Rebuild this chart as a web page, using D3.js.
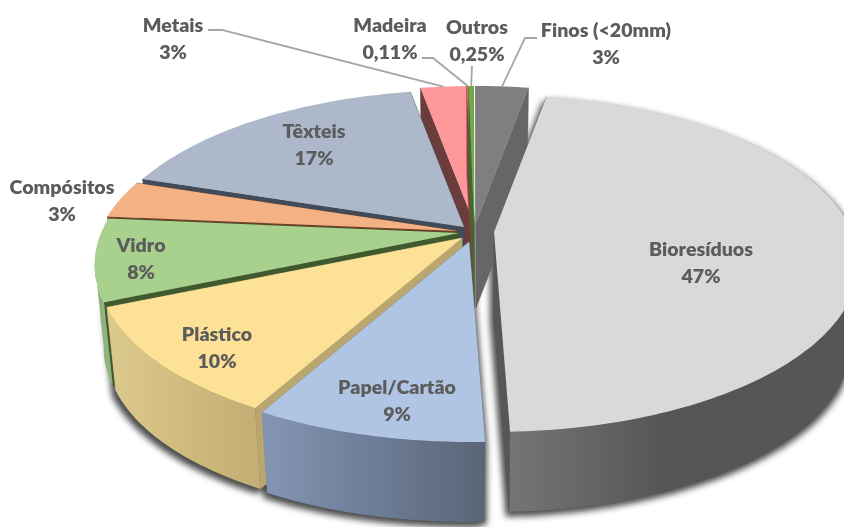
<!DOCTYPE html>
<html><head><meta charset="utf-8">
<script src="https://cdn.jsdelivr.net/npm/d3@7"></script>
<style>html,body{margin:0;padding:0;background:#fff;overflow:hidden}svg{display:block}text{font-family:Lato,"Open Sans",sans-serif;font-weight:800;font-size:19.6px;fill:#5c5c5c;text-anchor:middle}</style>
</head><body><svg id="c" width="844" height="527"></svg>
<script>
const categories=["Bioresíduos","Papel/Cartão","Plástico","Vidro","Compósitos","Têxteis","Metais","Madeira","Outros","Finos (<20mm)"];
const values=[46.6,8.6,10.5,7.9,3.6,17.1,2.45,0.11,0.25,2.8];
const percentLabels=["47%","9%","10%","8%","3%","17%","3%","0,11%","0,25%","3%"];
const topColors=["#d9d9d9","#b0c4e3","#fce196","#a9d18e","#f4b183","#adb9ca","#ff9999","#e0736e","#70ad47","#7f7f7f"];
const cutColors=["#575757","#76869f","#b9a76f","#41592f","#6b4027","#414b5a","#6b3c3c","#8a3f3f","#3f6a2f","#666666"];
const wallStart=["#757575","#8496b4","#dcc98d","#8fb47a","#b87f58","#6b7788","#8a4f4f","#8a4f4f","#4f7d38","#5a5a5a"];
const wallMid=["#555555","#6f7f9b","#d2bd80","#8fb47a","#b87f58","#6b7788","#8a4f4f","#8a4f4f","#4f7d38","#5a5a5a"];
const wallEnd=["#565656","#5a6577","#c2ad73","#8fb47a","#b87f58","#6b7788","#8a4f4f","#8a4f4f","#4f7d38","#5a5a5a"];
const shiftX=[21,-4,-11,-14,-15,-9,1,1,1,3];
const shiftY=[0,10,6,1,-1,-5,-9,-9,-9,-9];
const labelX=[701,397,217,141,62,314,173,390,477,606];
const labelY=[256,394,341,252,194,138,32,32,34,37];
const leaderElbows=[null,null,null,null,null,null,[[208,30],[222,30]],[[422,58],[433,58]],[[472,66]],[[537,38],[525,38]]];
const paintOrder=[6,7,8,9,5,4,3,2,0,1];
const shadowOffsets=[[-4,5],[2,3]];

const R=358, RY=162.6, P=0.187, CX=473, CY=232, DEPTH=85, BASE=0.975, START=10*Math.PI/180;
const FRONT=[100*Math.PI/180,260*Math.PI/180];
const svg=d3.select("#c");
const defs=svg.append("defs");
const blur=defs.append("filter").attr("id","soft").attr("filterUnits","userSpaceOnUse").attr("x",0).attr("y",0).attr("width",844).attr("height",527);
blur.append("feGaussianBlur").attr("stdDeviation",3);

const slices=d3.pie().value(d=>d).sort(null).startAngle(START).endAngle(START+2*Math.PI)(values);
const line=d3.line();

function project(i,theta,r,low){
  const X=r*Math.sin(theta), Y=-r*Math.cos(theta), w=1-P*Y;
  let x=R*X/w, y=RY*Y/w;
  if(low){x*=BASE;y=y*BASE+DEPTH;}
  return [CX+shiftX[i]+x,CY+shiftY[i]+y];
}
function rim(i,a0,a1,low){
  const n=Math.max(2,Math.ceil((a1-a0)/0.02));
  return d3.range(n+1).map(k=>project(i,a0+(a1-a0)*k/n,1,low));
}
const shadowLayer=svg.append("g").attr("filter","url(#soft)").attr("opacity",0.85);
const sliceLayer=svg.append("g");

paintOrder.forEach(i=>{
  const s=slices[i], a0=s.startAngle, a1=s.endAngle;
  const topRim=rim(i,a0,a1,false), lowRim=rim(i,a0,a1,true);
  const apexT=project(i,0,0,false), apexB=project(i,0,0,true);
  const outline=d3.polygonHull([apexT,apexB,...topRim,...lowRim]);
  if(i<3) shadowOffsets.forEach(([dx,dy])=>shadowLayer.append("path").attr("d",line(outline)+"Z").attr("fill","#2a2a2a").attr("transform",`translate(${dx},${dy})`));
  const g=sliceLayer.append("g");
  [a0,a1].forEach(a=>{
    const t=project(i,a,1,false), b=project(i,a,1,true);
    g.append("path").attr("d",line([apexT,t,b,apexB])+"Z").attr("fill",cutColors[i]).attr("stroke",cutColors[i]).attr("stroke-width",0.5);
  });
  const f0=Math.max(a0,FRONT[0]), f1=Math.min(a1,FRONT[1]);
  if(f1>f0){
    const wallTop=rim(i,f0,f1,false), wallLow=rim(i,f0,f1,true);
    const xs=d3.extent([...wallTop,...wallLow],d=>d[0]);
    const gid="wall"+i;
    const lg=defs.append("linearGradient").attr("id",gid).attr("gradientUnits","userSpaceOnUse")
      .attr("x1",xs[0]).attr("x2",xs[1]).attr("y1",0).attr("y2",0);
    [[0,wallStart[i]],[0.45,wallMid[i]],[1,wallEnd[i]]].forEach(([o,c])=>lg.append("stop").attr("offset",o).attr("stop-color",c));
    g.append("path").attr("d",line([...wallTop,...wallLow.slice().reverse()])+"Z").attr("fill",`url(#${gid})`);
  }
  g.append("path").attr("d",line([apexT,...topRim])+"Z").attr("fill",topColors[i]);
});

const leaders=svg.append("g");
leaderElbows.forEach((pts,i)=>{
  if(!pts)return;
  const mid=(slices[i].startAngle+slices[i].endAngle)/2;
  leaders.append("path").attr("d",line([...pts,project(i,mid,1,false)])).attr("fill","none").attr("stroke","#a6a6a6").attr("stroke-width",1.8);
});
const labels=svg.append("g");
categories.forEach((c,i)=>{
  labels.append("text").attr("x",labelX[i]).attr("y",labelY[i]).text(c);
  labels.append("text").attr("x",labelX[i]).attr("y",labelY[i]+26.5).text(percentLabels[i]);
});
</script></body></html>
